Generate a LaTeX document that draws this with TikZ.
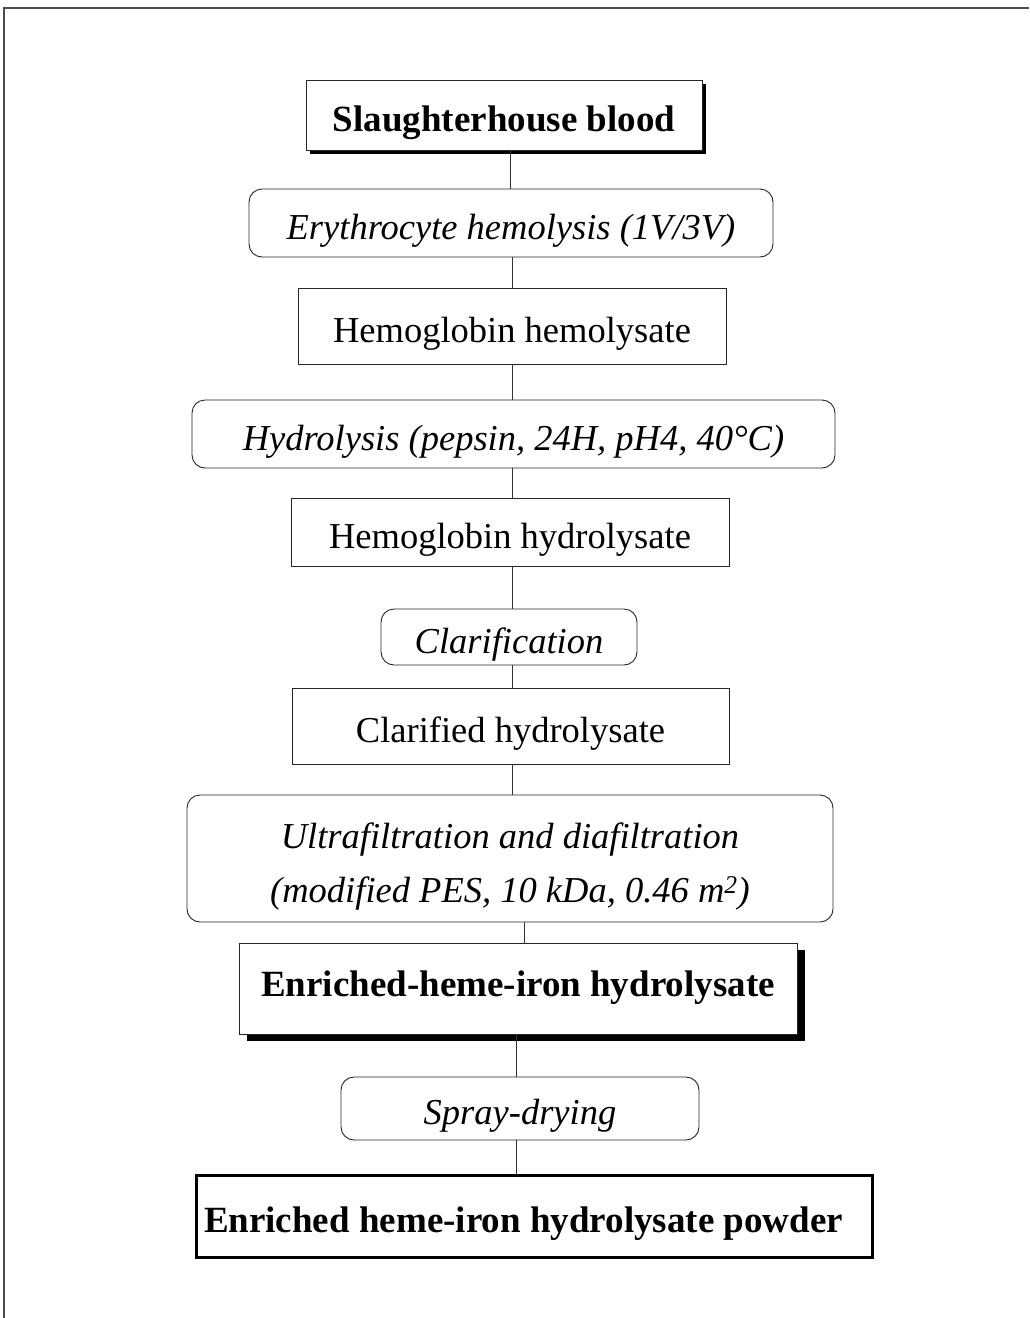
\documentclass[tikz,border=0pt]{standalone}
\usepackage{fontspec}
\setmainfont{Liberation Serif}
\usetikzlibrary{shadows}
\tikzset{
  x=1pt, y=-1pt,
  base/.style={draw=black!85, fill=white, line width=0.9pt, inner sep=0pt,
    text height=34.7pt, text depth=2.6pt,
    font=\fontsize{36.5}{54}\selectfont},
  prod/.style={base, rectangle},
  proc/.style={base, rounded corners=13pt, font=\fontsize{36.5}{54}\selectfont\itshape},
  boldprod/.style={base, rectangle, font=\fontsize{37}{54}\selectfont\bfseries},
  link/.style={draw=black!80, line width=0.7pt},
}
\begin{document}
\begin{tikzpicture}
\useasboundingbox (0,0) rectangle (1029,1318);
% frame
\draw[black!70, line width=1.2pt] (4,1318) -- (4,8) -- (1029,8);
% nodes
\node[boldprod, minimum width=396, minimum height=70,
  drop shadow={shadow xshift=4pt, shadow yshift=-4pt, fill=black, opacity=1}]
  (n1) at (504,115) {Slaughterhouse blood};
\node[proc, minimum width=524, minimum height=68] (n2) at (511,223)
  {Erythrocyte hemolysis (1V/3V)};
\node[prod, minimum width=428, minimum height=76] (n3) at (512,326)
  {Hemoglobin hemolysate};
\node[proc, minimum width=643, minimum height=68] (n4) at (513.5,434)
  {Hydrolysis (pepsin, 24H, pH4, 40°C)};
\node[prod, minimum width=438, minimum height=68] (n5) at (510,532)
  {Hemoglobin hydrolysate};
\node[proc, minimum width=256, minimum height=56] (n6) at (509,637)
  {Clarification};
\node[prod, minimum width=437, minimum height=76] (n7) at (510.5,726)
  {Clarified hydrolysate};
\node[proc, minimum width=646, minimum height=127] (n8) at (510,858.5) {};
\node[align=center, inner sep=0pt, font=\fontsize{36.5}{54}\selectfont\itshape]
  (n8t) at ([yshift=-8pt]n8.center)
  {Ultrafiltration and diafiltration\\(modified PES, 10 kDa, 0.46 m\textsuperscript{2})};
\node[boldprod, minimum width=558, minimum height=91, text height=35.2pt, text depth=20pt,
  drop shadow={shadow xshift=8pt, shadow yshift=-7pt, fill=black, opacity=1}]
  (n9) at (518,988.5) {Enriched-heme-iron hydrolysate};
\node[proc, minimum width=358, minimum height=63] (n10) at (520,1108.5)
  {Spray-drying};
\node[boldprod, line width=3pt, draw=black, minimum width=676, minimum height=82]
  (n11) at (534,1216) {\hspace*{-21pt}Enriched heme-iron hydrolysate powder};
% connectors
\draw[link] (n1.south -| 510,0) -- (n2.north -| 510,0);
\draw[link] (n2.south -| 512,0) -- (n3.north -| 512,0);
\draw[link] (n3.south -| 512,0) -- (n4.north -| 512,0);
\draw[link] (n4.south -| 512,0) -- (n5.north -| 512,0);
\draw[link] (n5.south -| 512,0) -- (n6.north -| 512,0);
\draw[link] (n6.south -| 512,0) -- (n7.north -| 512,0);
\draw[link] (n7.south -| 512,0) -- (n8.north -| 512,0);
\draw[link] (n8.south -| 524,0) -- (n9.north -| 524,0);
\draw[link] (n9.south -| 516,0) -- (n10.north -| 516,0);
\draw[link] (n10.south -| 516,0) -- (n11.north -| 516,0);
\end{tikzpicture}
\end{document}
